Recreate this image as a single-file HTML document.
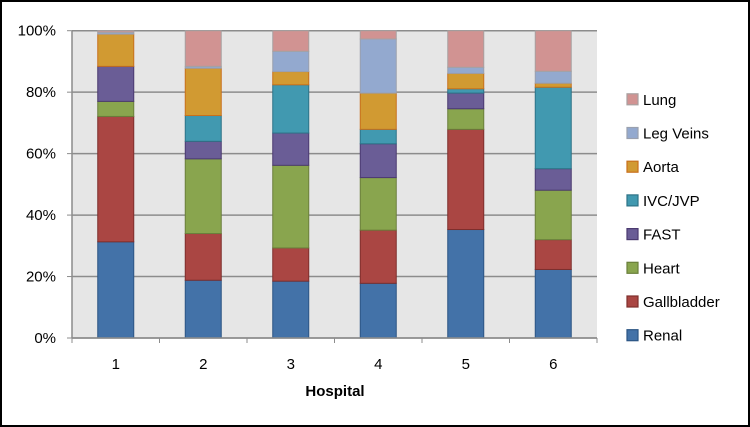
<!DOCTYPE html>
<html><head><meta charset="utf-8"><style>
html,body{margin:0;padding:0;background:#fff}
svg{display:block;font-family:"Liberation Sans",Arial,sans-serif}
</style></head><body>
<svg id="chart" width="750" height="427" viewBox="0 0 750 427">
<rect x="1" y="1" width="748" height="425" fill="#fff" stroke="#000" stroke-width="2"/>
<rect x="72" y="30.7" width="525" height="307.3" fill="#e6e6e6"/>
<g id="grid"></g><g id="bars"></g><g id="axes"></g><g id="legend"></g>
<text x="335" y="396" text-anchor="middle" font-size="15" font-weight="bold" fill="#000">Hospital</text>
</svg>
<script>
const categories = ["1","2","3","4","5","6"];
const seriesNames = ["Renal","Gallbladder","Heart","FAST","IVC/JVP","Aorta","Leg Veins","Lung"];
const renal = [31.3,18.8,18.5,17.8,35.3,22.3];
const gallbladder = [40.8,15.2,10.8,17.3,32.6,9.7];
const heart = [4.9,24.3,26.9,17.1,6.7,16.1];
const fast = [11.4,5.7,10.5,11.0,5.1,7.0];
const ivc = [0,8.4,15.7,4.7,1.4,26.5];
const aorta = [10.5,15.4,4.3,11.8,5.0,1.3];
const legVeins = [0.6,0.6,6.6,17.6,2.0,3.9];
const lung = [0.5,11.6,6.7,2.7,11.9,13.2];
const yTicks = [0,20,40,60,80,100];
const yTickLabels = ["0%","20%","40%","60%","80%","100%"];

const series = [renal,gallbladder,heart,fast,ivc,aorta,legVeins,lung];
const fills = ["#4372a8","#aa4643","#89a54e","#6a5d96","#4199b0","#d19a32","#93a9cf","#d19392"];
const strokes = ["#2c5584","#7e2e2c","#6a7f3b","#4b3a70","#2d7387","#c8701c","#9aa0ae","#a8a0a0"];
const NS="http://www.w3.org/2000/svg";
const L=72,R=597,T=30.7,B=338;
const yS=v=>B-(v/100)*(B-T);
const band=(R-L)/categories.length;
const xC=i=>L+band*(i+0.5);
const barW=36;
function mk(tag,attrs,parent){const e=document.createElementNS(NS,tag);for(const k in attrs)e.setAttribute(k,attrs[k]);parent.appendChild(e);return e;}
const grid=document.getElementById('grid'),axes=document.getElementById('axes'),bars=document.getElementById('bars'),legend=document.getElementById('legend');
yTicks.forEach((t,i)=>{
  const y=yS(t);
  const g=mk('line',{x1:L,x2:R,y1:y,y2:y,stroke:'#8c8c8c','stroke-width':1.5},grid);
  
  
  const tk=mk('line',{x1:L-5,x2:L,y1:y,y2:y,stroke:'#8c8c8c','stroke-width':1},axes);
  
  
  const tx=mk('text',{x:L-16,y:y+5,'text-anchor':'end','font-size':15,fill:'#000'},axes);
  tx.textContent=yTickLabels[i];
  
  
});
const ya=mk('line',{x1:L,x2:L,y1:T,y2:B,stroke:'#8c8c8c','stroke-width':1.5},axes);


const xa=mk('line',{x1:L,x2:R,y1:B,y2:B,stroke:'#8c8c8c','stroke-width':1.5},axes);


for(let i=0;i<=categories.length;i++){
  const x=L+band*i;
  const tk=mk('line',{x1:x,x2:x,y1:B,y2:B+5,stroke:'#8c8c8c','stroke-width':1},axes);
  
  
}
categories.forEach((c,i)=>{
  const tx=mk('text',{x:xC(i),y:369,'text-anchor':'middle','font-size':15,fill:'#000'},axes);
  tx.textContent=c;
  
  
  let cum=0;
  series.forEach((s,k)=>{
    const v=s[i]; if(v<=0){return;}
    const y1=yS(cum+v),y0=yS(cum);
    const r=mk('rect',{x:xC(i)-barW/2,y:y1,width:barW,height:Math.max(0,y0-y1),fill:fills[k],stroke:strokes[k],'stroke-width':1},bars);
    
    
    cum+=v;
  });
});
for(let k=series.length-1;k>=0;k--){
  const idx=series.length-1-k;
  const cy=99.3+idx*33.7;
  const g=mk('g',{},legend);
  
  
  mk('rect',{x:627,y:cy-5.5,width:11,height:11,fill:fills[k],stroke:strokes[k],'stroke-width':1.2},g);
  const t=mk('text',{x:643,y:cy+5.5,'font-size':15,fill:'#000'},g);
  t.textContent=seriesNames[k];
}
</script>
</body></html>
